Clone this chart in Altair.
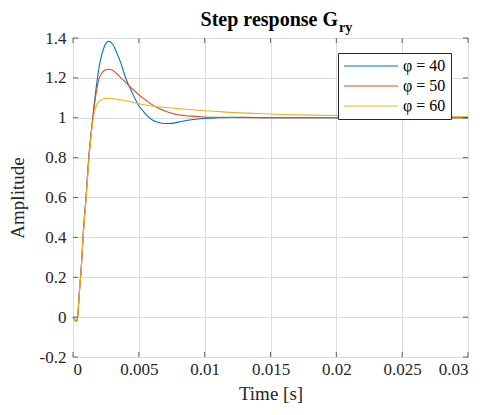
import altair as alt
import pandas as pd

t = [0, 0.00015, 0.00025, 0.00035, 0.0005, 0.0006, 0.0008, 0.001, 0.0012, 0.0014,
     0.0016, 0.0018, 0.002, 0.0022, 0.0024, 0.0027, 0.003, 0.0033, 0.0036, 0.004,
     0.0045, 0.005, 0.0055, 0.006, 0.0065, 0.007, 0.0075, 0.008, 0.009, 0.01,
     0.011, 0.012, 0.014, 0.016, 0.018, 0.02, 0.023, 0.026, 0.03]
phi40 = [0, -0.015, -0.022, 0.0, 0.14, 0.22, 0.44, 0.61, 0.80, 0.94,
         1.06, 1.17, 1.26, 1.32, 1.36, 1.383, 1.37, 1.33, 1.28, 1.20,
         1.125, 1.06, 1.02, 0.99, 0.976, 0.971, 0.972, 0.978, 0.99, 0.997,
         1.0, 1.002, 1.001, 1.0, 1.0, 1.0, 1.0, 1.0, 1.0]
phi50 = [0, -0.015, -0.022, 0.0, 0.14, 0.22, 0.44, 0.61, 0.80, 0.935,
         1.05, 1.14, 1.20, 1.225, 1.238, 1.243, 1.238, 1.222, 1.203, 1.177,
         1.145, 1.115, 1.09, 1.066, 1.048, 1.034, 1.023, 1.015, 1.008, 1.004,
         1.002, 1.001, 1.0, 1.0, 1.0, 1.0, 1.0, 1.0, 1.0]
phi60 = [0, -0.015, -0.022, 0.0, 0.14, 0.22, 0.43, 0.60, 0.78, 0.925,
         1.02, 1.065, 1.083, 1.092, 1.096, 1.098, 1.096, 1.093, 1.09, 1.085,
         1.078, 1.07, 1.064, 1.059, 1.055, 1.052, 1.049, 1.046, 1.04, 1.035,
         1.031, 1.027, 1.021, 1.016, 1.013, 1.011, 1.009, 1.007, 1.005]

series_names = ["φ = 40", "φ = 50", "φ = 60"]
series_colors = ["#0072BD", "#D95319", "#EDB120"]
x_ticks = [0, 0.005, 0.01, 0.015, 0.02, 0.025, 0.03]
y_ticks = [-0.2, 0, 0.2, 0.4, 0.6, 0.8, 1.0, 1.2, 1.4]
title_text = "Step response G"
title_sub_text = "ry"

rows = []
for name, vals in zip(series_names, [phi40, phi50, phi60]):
    for ti, v in zip(t, vals):
        rows.append({"t": ti, "y": v, "s": name})
df = pd.DataFrame(rows)

W, H = 395, 319
FONT = "Liberation Serif"
AX = "#262626"

xs = alt.Scale(domain=[0, 0.03], nice=False, zero=False)
ys = alt.Scale(domain=[-0.2, 1.4], nice=False, zero=False)

xaxis = alt.Axis(values=x_ticks, labelExpr="format(datum.value, '~g')", grid=True,
                 gridColor="#dcdcdc", ticks=False, tickSize=0, domain=False,
                 labelOverlap=False, labelFont=FONT, labelFontSize=17, labelColor=AX,
                 labelPadding=4, title="Time [s]", titleFont=FONT, titleFontSize=19,
                 titleFontWeight="normal", titleColor=AX, titlePadding=7)
yaxis = alt.Axis(values=y_ticks,
                 labelExpr="replace(format(datum.value, '~g'), '\u2212', '-')",
                 grid=True, gridColor="#dcdcdc", ticks=False, tickSize=0, domain=False,
                 labelOverlap=False, labelFont=FONT, labelFontSize=17, labelColor=AX,
                 labelPadding=7, title="Amplitude", titleFont=FONT, titleFontSize=19,
                 titleFontWeight="normal", titleColor=AX, titlePadding=12)

lines = alt.Chart(df).mark_line(strokeWidth=1.1, interpolate="monotone").encode(
    x=alt.X("t:Q", scale=xs, axis=xaxis),
    y=alt.Y("y:Q", scale=ys, axis=yaxis),
    color=alt.Color("s:N", scale=alt.Scale(domain=series_names, range=series_colors),
                    legend=alt.Legend(title=None, orient="none", legendX=265, legendY=15,
                                      fillColor="white", strokeColor=AX, padding=5,
                                      symbolType="stroke", symbolSize=2916,
                                      clipHeight=16, symbolStrokeWidth=1.1,
                                      labelFont=FONT, labelFontSize=16,
                                      labelColor="black", rowPadding=4, labelOffset=4)),
)

xt = pd.DataFrame({"v": x_ticks})
yt = pd.DataFrame({"v": y_ticks})
tk = dict(color=AX, thickness=1, size=5)
bottom = alt.Chart(xt).mark_tick(orient="vertical", yOffset=-2.5, **tk).encode(
    x=alt.X("v:Q", scale=xs, axis=xaxis), y=alt.value(H))
top = alt.Chart(xt).mark_tick(orient="vertical", yOffset=2.5, **tk).encode(
    x=alt.X("v:Q", scale=xs, axis=xaxis), y=alt.value(0))
left = alt.Chart(yt).mark_tick(orient="horizontal", xOffset=2.5, **tk).encode(
    y=alt.Y("v:Q", scale=ys, axis=yaxis), x=alt.value(0))
right = alt.Chart(yt).mark_tick(orient="horizontal", xOffset=-2.5, **tk).encode(
    y=alt.Y("v:Q", scale=ys, axis=yaxis), x=alt.value(W))

title_main = alt.Chart(pd.DataFrame({"s": [title_text]})).mark_text(
    font=FONT, fontSize=20, fontWeight="bold", align="right", baseline="alphabetic",
    color="black").encode(text="s:N", x=alt.value(265), y=alt.value(-12))
title_sub = alt.Chart(pd.DataFrame({"s": [title_sub_text]})).mark_text(
    font=FONT, fontSize=14, fontWeight="bold", align="left", baseline="alphabetic",
    color="black").encode(text="s:N", x=alt.value(266), y=alt.value(-6))

chart = alt.layer(lines, bottom, top, left, right, title_main, title_sub).properties(
    width=W, height=H,
    autosize=alt.AutoSizeParams(type="none"),
    padding={"left": 65, "top": 30, "right": 5, "bottom": 55},
).configure_view(stroke=AX, strokeWidth=1).configure_legend(
    labelFont=FONT, labelFontSize=16
).configure_axis(labelOverlap=False).configure(background="white")

chart.save("out.html", embed_options={"renderer": "svg", "actions": False})
